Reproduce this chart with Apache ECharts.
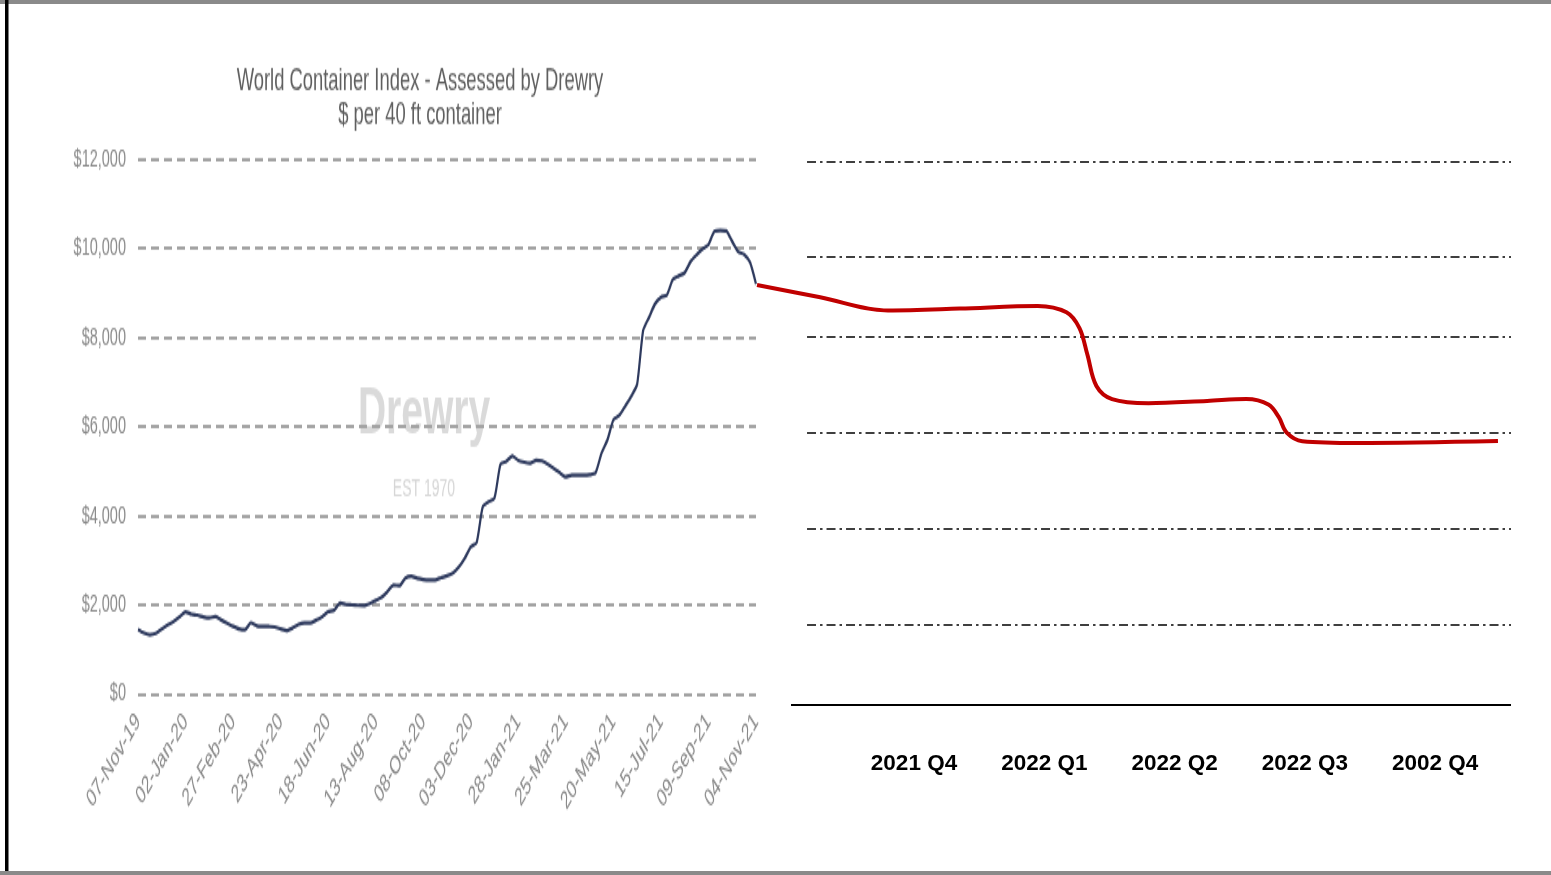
<!DOCTYPE html>
<html><head><meta charset="utf-8">
<script src="https://cdn.jsdelivr.net/npm/echarts@6/dist/echarts.min.js"></script>
<style>
html,body{margin:0;padding:0;background:#fff;}
#wrap{position:relative;width:1551px;height:875px;overflow:hidden;background:#fff;}
#left{position:absolute;left:0;top:0;width:780px;height:515px;transform:scaleY(1.699);transform-origin:0 0;}
#right{position:absolute;left:0;top:0;width:1551px;height:875px;}
</style></head><body>
<div id="wrap"><div id="left"></div><div id="right"></div></div>
<script>
// ---------- DATA ----------
const wciStart = '2019-11-07';          // first weekly assessment
const wciTitle = ['World Container Index - Assessed by Drewry', '$ per 40 ft container'];
const wciValues = [
  1450,1370,1330,1360,1460,1550,1630,1730,1845,1790,
  1770,1730,1710,1735,1660,1590,1520,1460,1440,1600,
  1530,1520,1515,1505,1460,1420,1480,1560,1592,1592,
  1660,1735,1850,1880,2040,2010,2000,1990,1985,2030,
  2100,2170,2300,2445,2430,2600,2640,2595,2570,2560,
  2560,2610,2650,2714,2850,3050,3300,3400,4190,4310,
  4400,5150,5220,5340,5240,5200,5180,5240,5230,5150,
  5060,4960,4870,4910,4910,4910,4920,4960,5400,5700,
  6150,6250,6460,6680,6950,8150,8450,8750,8900,8950,
  9300,9380,9450,9700,9850,9980,10080,10380,10400,10390,
  10150,9920,9860,9680,9200
];
const quarterLabels = ['2021 Q4', '2022 Q1', '2022 Q2', '2022 Q3', '2002 Q4'];
// forecast: x = quarter offset from 2021 Q4, y = $ level
const forecastX = [-1.205,-0.72,-0.20,0.35,0.95,1.17,1.27,1.33,1.40,1.52,1.80,2.25,2.55,2.72,2.80,2.86,2.98,3.40,4.482];
const forecastY = [9282,9010,8720,8760,8820,8680,8330,7750,7050,6760,6670,6720,6760,6640,6360,6020,5830,5790,5834];
const forecastGridLevels = [1768, 3889, 6011, 8132, 9900, 12000];

// ---------- weekly category labels ----------
const MON = ['Jan','Feb','Mar','Apr','May','Jun','Jul','Aug','Sep','Oct','Nov','Dec'];
const wciDates = [];
(function(){
  const d0 = new Date(wciStart + 'T00:00:00Z');
  for (let i = 0; i < wciValues.length; i++) {
    const d = new Date(d0.getTime() + i * 7 * 86400000);
    const dd = String(d.getUTCDate()).padStart(2,'0');
    const yy = String(d.getUTCFullYear()).slice(2);
    wciDates.push(dd + '-' + MON[d.getUTCMonth()] + '-' + yy);
  }
})();

const S = 875 / 515; // vertical stretch of the left picture
const FONT = "'Liberation Sans', Arial, sans-serif";

// ---------- LEFT CHART (Drewry WCI) ----------
const left = echarts.init(document.getElementById('left'), null, {renderer:'canvas'});
left.setOption({
  animation: false,
  backgroundColor: 'transparent',
  grid: { left: 138, right: 24, top: 159 / S, bottom: 515 - 694 / S },
  xAxis: {
    type: 'category', data: wciDates, boundaryGap: false,
    axisLine: {show: false}, axisTick: {show: false},
    axisLabel: { interval: 7, rotate: 46, color: '#888', fontSize: 15, fontFamily: FONT, margin: 14 }
  },
  yAxis: {
    type: 'value', min: 0, max: 12000, interval: 2000,
    axisLine: {show: false}, axisTick: {show: false},
    axisLabel: { color: '#8a8a8a', fontSize: 14.5, fontFamily: FONT, margin: 12,
      formatter: v => '$' + v.toLocaleString('en-US') },
    splitLine: { lineStyle: { color: '#a3a3a3', width: 1.8, type: [8, 5] } }
  },
  graphic: [
    { type: 'text', x: 420, y: 47.7, style: { text: wciTitle[0], fill: '#5f5f5f', font: '18.4px ' + FONT, textAlign: 'center', textVerticalAlign: 'middle' } },
    { type: 'text', x: 420, y: 68.3, style: { text: wciTitle[1], fill: '#5f5f5f', font: '18.4px ' + FONT, textAlign: 'center', textVerticalAlign: 'middle' } },
    { type: 'text', x: 424, y: 244, z: -1, style: { text: 'Drewry', fill: '#dadada', font: 'bold 39px ' + FONT, textAlign: 'center', textVerticalAlign: 'middle' } },
    { type: 'text', x: 424, y: 288.4, z: -1, style: { text: 'EST 1970', fill: '#d6d6d6', font: '14px ' + FONT, textAlign: 'center', textVerticalAlign: 'middle' } }
  ],
  series: [{
    type: 'line', data: wciValues, symbol: 'none', smooth: 0.2,
    lineStyle: { color: '#2e3a5e', width: 2.2, join: 'round' }, z: 5
  }]
});

// ---------- RIGHT CHART (forecast) ----------
const right = echarts.init(document.getElementById('right'), null, {renderer:'canvas'});
const xMin = -1.205, xMax = 4.582, gridStart = -0.821, axisStart = -0.944;
const gridLines = forecastGridLevels.map(v => [
  { coord: [gridStart, v], lineStyle: { color: '#000', width: 1.6, type: [9, 4, 2.5, 4] } },
  { coord: [xMax, v] }
]);
gridLines.push([
  { coord: [axisStart, 0], lineStyle: { color: '#000', width: 2.2, type: 'solid' } },
  { coord: [xMax, 0] }
]);
right.setOption({
  animation: false,
  backgroundColor: 'transparent',
  grid: { left: 757, right: 40, top: 162, bottom: 170 },
  xAxis: {
    type: 'value', min: xMin, max: xMax,
    axisLine: {show: false}, axisTick: {show: false}, splitLine: {show: false},
    axisLabel: { customValues: [0,1,2,3,4], formatter: v => quarterLabels[Math.round(v)] || '',
      color: '#000', fontSize: 22.5, fontWeight: 'bold', fontFamily: FONT, margin: 47 }
  },
  yAxis: { type: 'value', min: 0, max: 12000, show: false },
  graphic: [
    { type: 'rect', shape: { x: 0, y: 0, width: 1551, height: 4 }, style: { fill: '#8a8a8a' } },
    { type: 'rect', shape: { x: 5, y: 0, width: 3.5, height: 875 }, style: { fill: '#000' } },
    { type: 'rect', shape: { x: 0, y: 871, width: 1551, height: 4 }, style: { fill: '#8a8a8a' } }
  ],
  series: [{
    type: 'line', data: forecastX.map((x, i) => [x, forecastY[i]]),
    symbol: 'none', smooth: 0.35,
    lineStyle: { color: '#c00000', width: 4, join: 'round' }, z: 10,
    markLine: { silent: true, symbol: ['none','none'], label: {show: false}, animation: false, data: gridLines, z: 2 }
  }]
});
</script>
</body></html>
